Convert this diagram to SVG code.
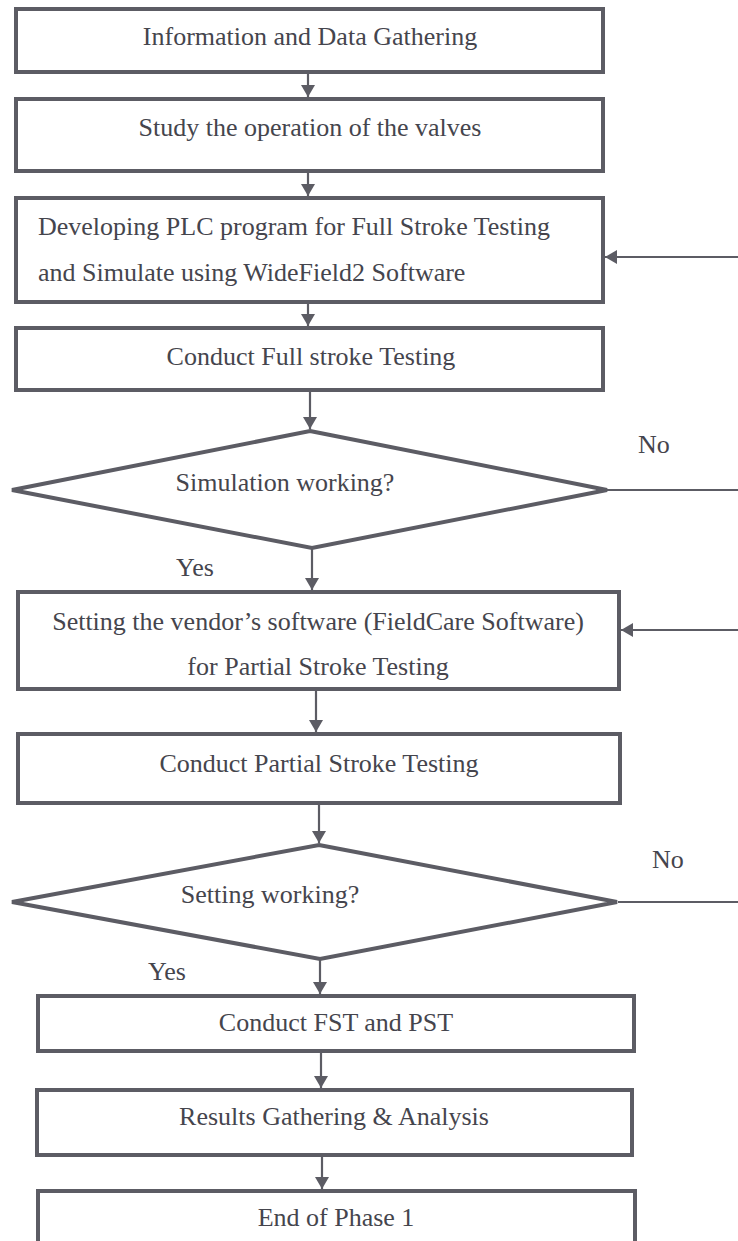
<svg xmlns="http://www.w3.org/2000/svg" width="738" height="1241" viewBox="0 0 738 1241">
<style>
.box{fill:#ffffff;stroke:#5c5c64;stroke-width:4}
.dia{fill:#ffffff;stroke:#5c5c64;stroke-width:4;stroke-linejoin:miter}
.con{fill:none;stroke:#5c5c64;stroke-width:2.2}
.t{font-family:"Liberation Serif","Times New Roman",serif;font-size:26px;fill:#45454d}
.c{text-anchor:middle}
</style>
<defs>
<marker id="ah" markerWidth="12" markerHeight="14" refX="12" refY="7" orient="auto" markerUnits="userSpaceOnUse">
<path d="M0,0 L12,7 L0,14 Z" fill="#5c5c64"/>
</marker>
</defs>
<rect width="738" height="1241" fill="#ffffff"/>
<g id="connectors">
<line class="con" x1="308" y1="72" x2="308" y2="97" marker-end="url(#ah)"/>
<line class="con" x1="308" y1="171" x2="308" y2="196" marker-end="url(#ah)"/>
<line class="con" x1="308" y1="302" x2="308" y2="326" marker-end="url(#ah)"/>
<line class="con" x1="310" y1="390" x2="310" y2="429" marker-end="url(#ah)"/>
<line class="con" x1="312" y1="548" x2="312" y2="590" marker-end="url(#ah)"/>
<line class="con" x1="316" y1="689" x2="316" y2="732" marker-end="url(#ah)"/>
<line class="con" x1="319" y1="803" x2="319" y2="843" marker-end="url(#ah)"/>
<line class="con" x1="320" y1="959" x2="320" y2="994" marker-end="url(#ah)"/>
<line class="con" x1="321" y1="1051" x2="321" y2="1088" marker-end="url(#ah)"/>
<line class="con" x1="322" y1="1155" x2="322" y2="1189" marker-end="url(#ah)"/>
<line class="con" x1="738" y1="257" x2="605" y2="257" marker-end="url(#ah)"/>
<line class="con" x1="607" y1="490" x2="738" y2="490"/>
<line class="con" x1="738" y1="630" x2="621" y2="630" marker-end="url(#ah)"/>
<line class="con" x1="618" y1="902" x2="738" y2="902"/>
<text class="t" x="638" y="453">No</text>
<text class="t" x="176" y="576">Yes</text>
<text class="t" x="652" y="868">No</text>
<text class="t" x="148" y="980">Yes</text>
</g>
<g id="n1">
<rect class="box" x="16" y="9" width="587" height="63"/>
<text class="t c" x="310" y="45">Information and Data Gathering</text>
</g>
<g id="n2">
<rect class="box" x="16" y="99" width="587" height="72"/>
<text class="t c" x="310" y="136">Study the operation of the valves</text>
</g>
<g id="n3">
<rect class="box" x="16" y="198" width="587" height="104"/>
<text class="t" x="38" y="235">Developing PLC program for Full Stroke Testing</text>
<text class="t" x="38" y="281">and Simulate using WideField2 Software</text>
</g>
<g id="n4">
<rect class="box" x="16" y="328" width="587" height="62"/>
<text class="t c" x="311" y="365">Conduct Full stroke Testing</text>
</g>
<g id="d1">
<polygon class="dia" points="310,431 607,490 312,548 12,490"/>
<text class="t c" x="285" y="491">Simulation working?</text>
</g>
<g id="n5">
<rect class="box" x="18" y="592" width="601" height="97"/>
<text class="t c" x="318" y="630">Setting the vendor’s software (FieldCare Software)</text>
<text class="t c" x="318" y="675">for Partial Stroke Testing</text>
</g>
<g id="n6">
<rect class="box" x="18" y="734" width="602" height="69"/>
<text class="t c" x="319" y="772">Conduct Partial Stroke Testing</text>
</g>
<g id="d2">
<polygon class="dia" points="319,845 617,902 320,959 12,902"/>
<text class="t c" x="270" y="903">Setting working?</text>
</g>
<g id="n7">
<rect class="box" x="38" y="996" width="596" height="55"/>
<text class="t c" x="336" y="1031">Conduct FST and PST</text>
</g>
<g id="n8">
<rect class="box" x="37" y="1090" width="595" height="65"/>
<text class="t c" x="334" y="1125">Results Gathering &amp; Analysis</text>
</g>
<g id="n9">
<rect class="box" x="38" y="1191" width="597" height="60"/>
<text class="t c" x="336" y="1226">End of Phase 1</text>
</g>
</svg>
